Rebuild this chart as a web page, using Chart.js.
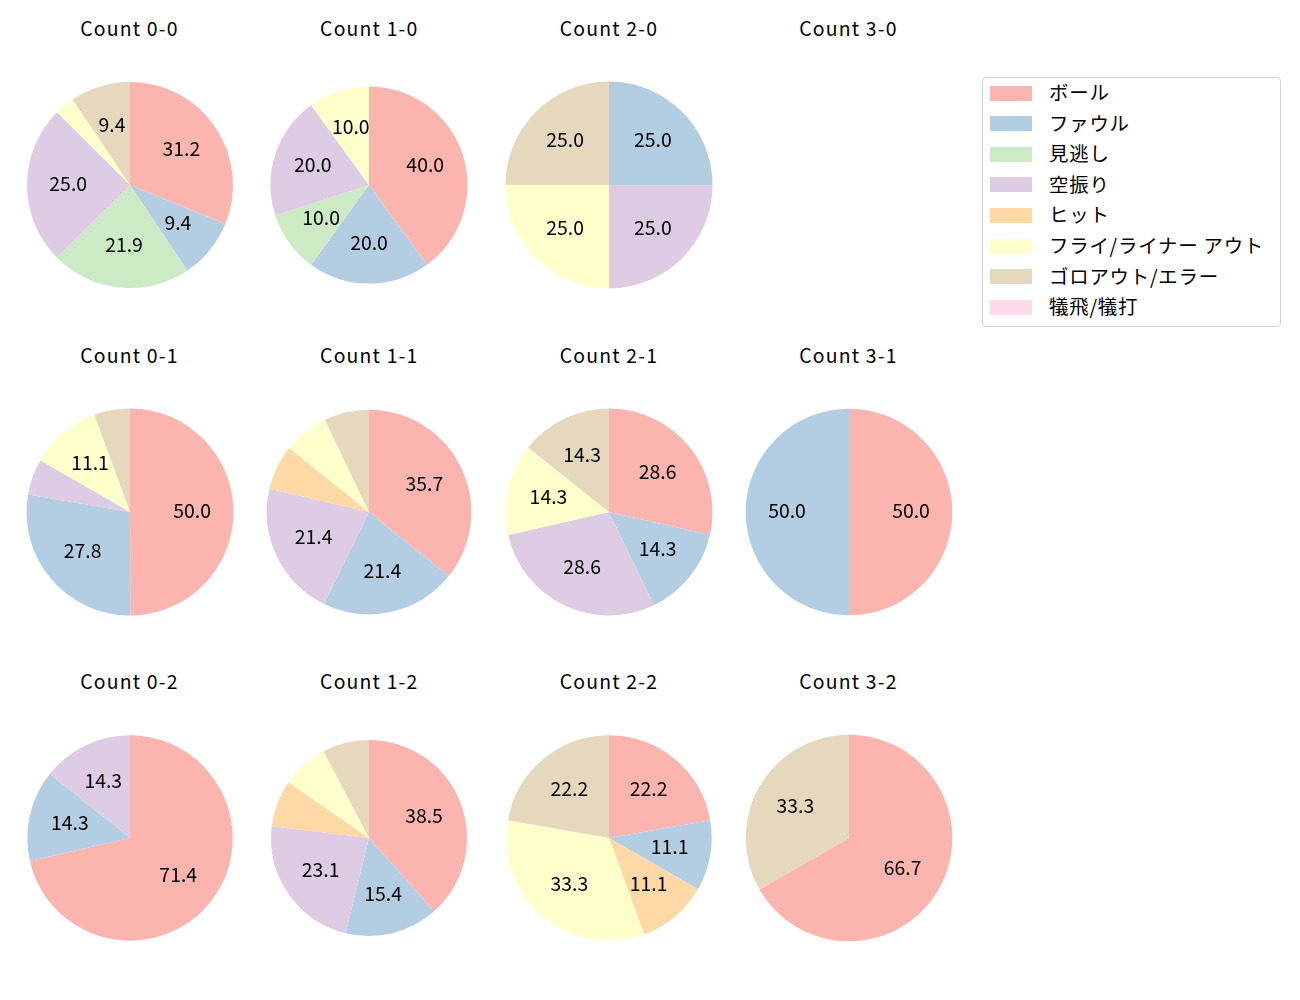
<!DOCTYPE html>
<html>
<head>
<meta charset="utf-8">
<script src="https://cdn.jsdelivr.net/npm/chart.js@4/dist/chart.umd.min.js"></script>
<style>
  html, body { margin:0; padding:0; background:#fff; }
  body { width:1300px; height:1000px; position:relative; overflow:hidden;
         font-family:"Noto Sans CJK JP","Noto Sans",sans-serif; color:#000; }
  .title { position:absolute; font-size:19.4px; line-height:19.4px; letter-spacing:1.2px; white-space:nowrap; transform:translate(-50%,-50%); }
  .pie { position:absolute; width:240px; height:240px; }
  .legend { position:absolute; left:982px; top:77px; width:299px; height:250px;
            border:1px solid #d4d4d4; border-radius:4px; box-sizing:border-box; background:rgba(255,255,255,0.8); }
  .lrow { position:absolute; left:7px; height:20px; }
  .lpatch { position:absolute; left:0; top:2.5px; width:42px; height:15px; }
  .ltext { position:absolute; left:59px; top:-1px; font-size:19.4px; line-height:20px; letter-spacing:0.8px; white-space:nowrap; }
</style>
</head>
<body>
<script>
// ---- data ----
const categories = ['ボール','ファウル','見逃し','空振り','ヒット','フライ/ライナー アウト','ゴロアウト/エラー','犠飛/犠打'];
const countTitles = ['Count 0-0','Count 1-0','Count 2-0','Count 3-0',
                     'Count 0-1','Count 1-1','Count 2-1','Count 3-1',
                     'Count 0-2','Count 1-2','Count 2-2','Count 3-2'];
const count00 = [31.2, 9.4, 21.9, 25.0, 0, 3.1, 9.4, 0];
const count10 = [40.0, 20.0, 10.0, 20.0, 0, 10.0, 0, 0];
const count20 = [0, 25.0, 0, 25.0, 0, 25.0, 25.0, 0];
const count30 = [0, 0, 0, 0, 0, 0, 0, 0];
const count01 = [50.0, 27.8, 0, 5.6, 0, 11.1, 5.6, 0];
const count11 = [35.7, 21.4, 0, 21.4, 7.1, 7.1, 7.1, 0];
const count21 = [28.6, 14.3, 0, 28.6, 0, 14.3, 14.3, 0];
const count31 = [50.0, 50.0, 0, 0, 0, 0, 0, 0];
const count02 = [71.4, 14.3, 0, 14.3, 0, 0, 0, 0];
const count12 = [38.5, 15.4, 0, 23.1, 7.7, 7.7, 7.7, 0];
const count22 = [22.2, 11.1, 0, 0, 11.1, 33.3, 22.2, 0];
const count32 = [66.7, 0, 0, 0, 0, 0, 33.3, 0];
const seriesList = [count00, count10, count20, count30,
                    count01, count11, count21, count31,
                    count02, count12, count22, count32];

// ---- styles / layout ----
const colors = ['#fbb4ae','#b3cde3','#ccebc5','#decbe4','#fed9a6','#ffffcc','#e5d8bd','#fddaec'];
const colX = [129.5, 369.3, 609, 848.5];
const rowY = [185, 512, 838.3];
const titleY = [28, 355, 680.5];
const radii = [103, 98.5, 103.5, 103, 103.5, 102.3, 103.5, 103.3, 102.7, 98, 102.7, 103.3];
const labelThreshold = 8;

const pctLabels = {
  id: 'pctLabels',
  afterDatasetsDraw(chart) {
    const ctx = chart.ctx;
    const meta = chart.getDatasetMeta(0);
    const data = chart.data.datasets[0].data;
    ctx.save();
    ctx.fillStyle = '#000';
    ctx.font = '19.4px "Noto Sans CJK JP", "Noto Sans", sans-serif';
    ctx.textAlign = 'center';
    ctx.textBaseline = 'middle';
    meta.data.forEach((arc, i) => {
      const v = data[i];
      if (v < labelThreshold) return;
      const p = arc.getProps(['x','y','startAngle','endAngle','outerRadius'], true);
      const mid = (p.startAngle + p.endAngle) / 2;
      const r = p.outerRadius * 0.6;
      ctx.fillText(v.toFixed(1), p.x + Math.cos(mid) * r, p.y + Math.sin(mid) * r - 1.7);
    });
    ctx.restore();
  }
};

seriesList.forEach((vals, idx) => {
  const col = idx % 4, row = Math.floor(idx / 4);
  const t = document.createElement('div');
  t.className = 'title';
  t.textContent = countTitles[idx];
  t.style.left = colX[col] + 'px';
  t.style.top = titleY[row] + 'px';
  document.body.appendChild(t);

  const total = vals.reduce((a, b) => a + b, 0);
  if (total === 0) return;
  const wrap = document.createElement('div');
  wrap.className = 'pie';
  wrap.style.left = (colX[col] - 120) + 'px';
  wrap.style.top = (rowY[row] - 120) + 'px';
  const cv = document.createElement('canvas');
  wrap.appendChild(cv);
  document.body.appendChild(wrap);
  new Chart(cv, {
    type: 'pie',
    data: {
      labels: categories,
      datasets: [{ data: vals, backgroundColor: colors, borderWidth: 0 }]
    },
    options: {
      responsive: true,
      maintainAspectRatio: false,
      animation: false,
      radius: radii[idx],
      layout: { padding: 0 },
      plugins: { legend: { display: false }, tooltip: { enabled: false } }
    },
    plugins: [pctLabels]
  });
});

// ---- legend ----
const legend = document.createElement('div');
legend.className = 'legend';
categories.forEach((name, i) => {
  const row = document.createElement('div');
  row.className = 'lrow';
  row.style.top = (5 + i * 30.6) + 'px';
  const patch = document.createElement('div');
  patch.className = 'lpatch';
  patch.style.background = colors[i];
  const txt = document.createElement('div');
  txt.className = 'ltext';
  txt.textContent = name;
  row.appendChild(patch);
  row.appendChild(txt);
  legend.appendChild(row);
});
document.body.appendChild(legend);
</script>
</body>
</html>
